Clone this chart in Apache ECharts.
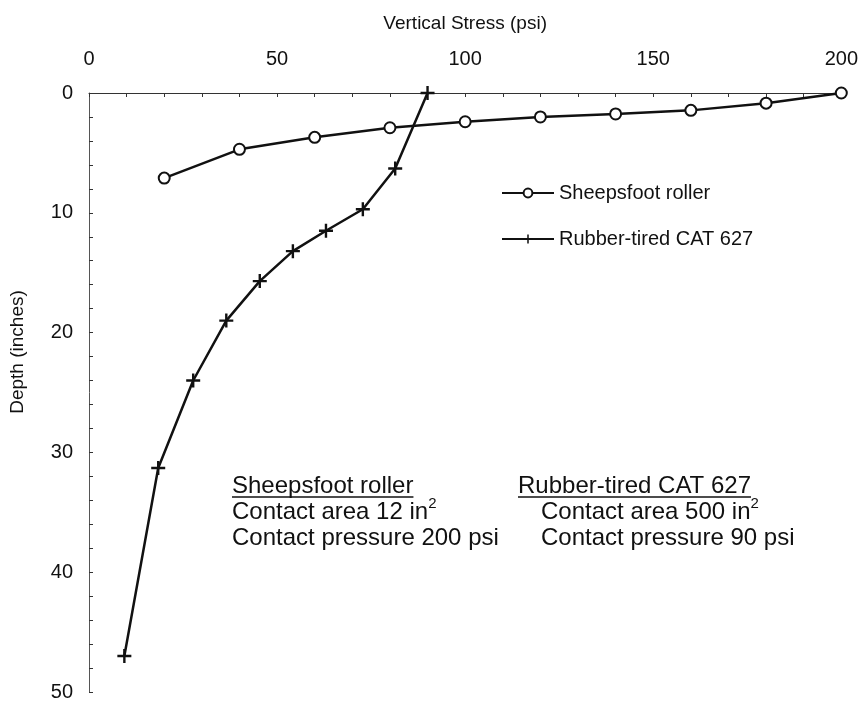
<!DOCTYPE html>
<html>
<head>
<meta charset="utf-8">
<script src="https://cdn.jsdelivr.net/npm/echarts@6/dist/echarts.min.js"></script>
<style>
  html, body { margin: 0; padding: 0; background: #fff; }
  #chart { width: 861px; height: 702px; }
</style>
</head>
<body>
<div id="chart"></div>
<script>
// Vertical stress (psi) beneath each compactor, by depth (inches)
const stressTicks = [0, 50, 100, 150, 200];
const depthTicks = [0, 10, 20, 30, 40, 50];

const sheepsfootStress = [20, 40, 60, 80, 100, 120, 140, 160, 180, 200];
const sheepsfootDepth  = [7.1, 4.7, 3.7, 2.9, 2.4, 2.0, 1.75, 1.45, 0.85, 0];

const rubberStress = [90, 81.4, 72.8, 63, 54.2, 45.4, 36.5, 27.7, 18.4, 9.4];
const rubberDepth  = [0, 6.3, 9.7, 11.5, 13.2, 15.7, 19, 24, 31.3, 47];

const seriesNames = ['Sheepsfoot roller', 'Rubber-tired CAT 627'];

const FONT = 'Arial, "Liberation Sans", Helvetica, sans-serif';
const INK = '#111';

// filled plus sign, stroke about 2.4 px at 14 px
const plusPath = 'path://M5.8,0H8.2V5.8H14V8.2H8.2V14H5.8V8.2H0V5.8H5.8Z';

function zip(xs, ys) { return xs.map((x, i) => [x, ys[i]]); }

function textWidth(str, size) {
  const c = document.createElement('canvas').getContext('2d');
  c.font = size + 'px ' + FONT;
  return c.measureText(str).width;
}

const noteSize = 24;
const leftX = 232, rightX = 518, rightIndentX = 541;
const row1 = 486, row2 = 512, row3 = 538;

function note(x, y, text) {
  return {
    type: 'text', x: x, y: y,
    style: {
      text: text, fill: INK, font: noteSize + 'px ' + FONT,
      verticalAlign: 'middle', align: 'left',
      rich: { sup: { fontSize: 15, fontFamily: FONT, fill: INK, padding: [0, 0, 17, 0] } }
    }
  };
}
function underline(x, y, text) {
  const w = textWidth(text, noteSize);
  return { type: 'line', shape: { x1: x, y1: y, x2: x + w, y2: y }, style: { stroke: INK, lineWidth: 1.5 } };
}

const chart = echarts.init(document.getElementById('chart'));
chart.setOption({
  animation: false,
  backgroundColor: '#fff',
  grid: { left: 89, right: 18, top: 93, bottom: 3, containLabel: false },
  legend: {
    orient: 'vertical', left: 496, top: 178,
    itemWidth: 52, itemHeight: 11, itemGap: 26,
    textStyle: { fontFamily: FONT, fontSize: 20, color: INK },
    data: seriesNames
  },
  xAxis: {
    type: 'value', position: 'top',
    min: stressTicks[0], max: stressTicks[stressTicks.length - 1],
    interval: stressTicks[1] - stressTicks[0],
    name: 'Vertical Stress (psi)', nameLocation: 'middle', nameGap: 60,
    nameTextStyle: { fontFamily: FONT, fontSize: 19, color: INK },
    axisLine: { show: true, onZero: false, lineStyle: { color: '#333', width: 1 } },
    axisTick: { show: true, inside: true, length: 4, lineStyle: { color: '#333' } },
    minorTick: { show: true, splitNumber: 5, length: 4, lineStyle: { color: '#333' } },
    splitLine: { show: false },
    axisLabel: { fontFamily: FONT, fontSize: 20, color: INK, margin: 24 }
  },
  yAxis: {
    type: 'value', inverse: true, position: 'left',
    min: depthTicks[0], max: depthTicks[depthTicks.length - 1],
    interval: depthTicks[1] - depthTicks[0],
    axisLine: { show: true, onZero: false, lineStyle: { color: '#555', width: 1 } },
    axisTick: { show: true, inside: true, length: 4, lineStyle: { color: '#333' } },
    minorTick: { show: true, splitNumber: 5, length: 4, lineStyle: { color: '#333' } },
    splitLine: { show: false },
    axisLabel: { fontFamily: FONT, fontSize: 20, color: INK, margin: 16, padding: [0, 0, 8, 0] }
  },
  series: [
    {
      name: seriesNames[0], type: 'line', data: zip(sheepsfootStress, sheepsfootDepth),
      symbol: 'circle', symbolSize: 11, clip: false,
      lineStyle: { color: INK, width: 2.5 },
      itemStyle: { color: '#fff', borderColor: INK, borderWidth: 2 }
    },
    {
      name: seriesNames[1], type: 'line', data: zip(rubberStress, rubberDepth),
      symbol: plusPath, symbolSize: 14, clip: false,
      lineStyle: { color: INK, width: 2.5 },
      itemStyle: { color: INK }
    }
  ],
  graphic: [
    {
      type: 'text', x: 18, y: 352, rotation: Math.PI / 2,
      style: { text: 'Depth (inches)', font: '19px ' + FONT, fill: INK, align: 'center', verticalAlign: 'middle' }
    },
    note(leftX, row1, 'Sheepsfoot roller'),
    underline(leftX, row1 + 11, 'Sheepsfoot roller'),
    note(leftX, row2, 'Contact area 12 in{sup|2}'),
    note(leftX, row3, 'Contact pressure 200 psi'),
    note(rightX, row1, 'Rubber-tired CAT 627'),
    underline(rightX, row1 + 11, 'Rubber-tired CAT 627'),
    note(rightIndentX, row2, 'Contact area 500 in{sup|2}'),
    note(rightIndentX, row3, 'Contact pressure 90 psi')
  ]
});
</script>
</body>
</html>
